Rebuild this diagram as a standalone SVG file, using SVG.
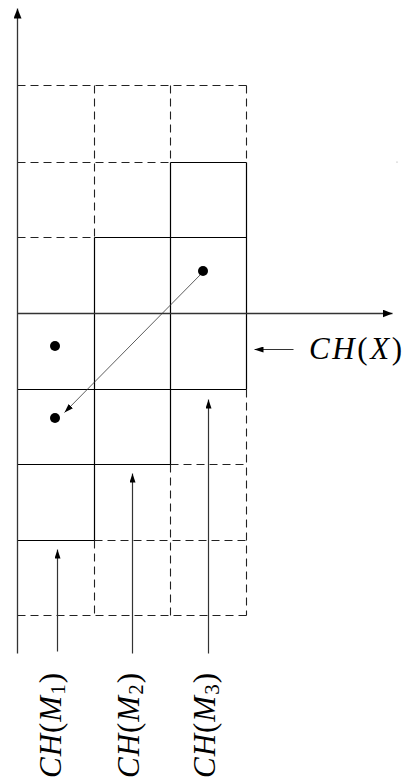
<svg xmlns="http://www.w3.org/2000/svg" width="407" height="781" viewBox="0 0 407 781">
<style>
.d{fill:none;stroke:#222;stroke-width:1.1;stroke-dasharray:8,5}
.s{fill:none;stroke:#000;stroke-width:1.2}
.ax{fill:none;stroke:#333;stroke-width:1.3}
.ar{fill:none;stroke:#333;stroke-width:1.2}
.th{fill:none;stroke:#333;stroke-width:0.8}
.lbl{font-family:"Liberation Serif","DejaVu Serif",serif;font-size:31px;fill:#000}
.it{font-style:italic}
.dot{fill:#000}
</style>
<defs>
<marker id="big" viewBox="0 0 10 8" markerWidth="10" markerHeight="8" refX="10" refY="4" orient="auto" markerUnits="userSpaceOnUse"><path d="M0,0 L10,4 L0,8 z" fill="#000"/></marker>
<marker id="sm" viewBox="0 0 9 6" markerWidth="9" markerHeight="6" refX="9" refY="3" orient="auto" markerUnits="userSpaceOnUse"><path d="M0,0 L9,3 L0,6 z" fill="#000"/></marker>
</defs>
<g id="grid" transform="translate(0.5,0.5)">
<path class="d" d="M17,85 H246 M17,162 H170 M17,237 H94 M170,464 H246 M94,540 H246 M17,615 H246 M94,85 V237 M94,540 V615 M170,85 V162 M170,464 V615 M246,85 V162 M246,389 V615"/>
<path class="s" d="M170,162 H246 M94,237 H246 M17,389 H246 M17,464 H170 M17,540 H94 M94,237 V540 M170,162 V464 M246,162 V389"/>
</g>
<g id="connectors" transform="translate(0.5,0.5)">
<path class="ax" d="M17,653 V8" marker-end="url(#big)"/>
<path class="ax" d="M17,313 H392" marker-end="url(#big)"/>
<path class="th" d="M203,271 L64,412" marker-end="url(#sm)"/>
<path class="ar" d="M293,349 H254" marker-end="url(#sm)"/>
<path class="ar" d="M57,651 V549" marker-end="url(#sm)"/>
<path class="ar" d="M132,653 V473" marker-end="url(#sm)"/>
<path class="ar" d="M208,653 V399" marker-end="url(#sm)"/>
</g>
<g id="p1"><circle class="dot" cx="203" cy="271" r="5"/></g>
<g id="p2"><circle class="dot" cx="55" cy="346" r="5"/></g>
<g id="p3"><circle class="dot" cx="55" cy="418" r="5"/></g>
<g id="speck"><circle cx="397" cy="162" r="0.6" fill="#999"/></g>
<g id="label-CHX"><text class="lbl" x="309" y="359" textLength="93"><tspan class="it">CH</tspan>(<tspan class="it">X</tspan>)</text></g>
<g id="label-CHM1"><text class="lbl" transform="translate(61,778) rotate(-90)" textLength="105"><tspan class="it">CH</tspan>(<tspan class="it">M</tspan><tspan font-size="21" dy="4">1</tspan><tspan dy="-4">)</tspan></text></g>
<g id="label-CHM2"><text class="lbl" transform="translate(139,778) rotate(-90)" textLength="105"><tspan class="it">CH</tspan>(<tspan class="it">M</tspan><tspan font-size="21" dy="4">2</tspan><tspan dy="-4">)</tspan></text></g>
<g id="label-CHM3"><text class="lbl" transform="translate(215,778) rotate(-90)" textLength="105"><tspan class="it">CH</tspan>(<tspan class="it">M</tspan><tspan font-size="21" dy="4">3</tspan><tspan dy="-4">)</tspan></text></g>
</svg>
